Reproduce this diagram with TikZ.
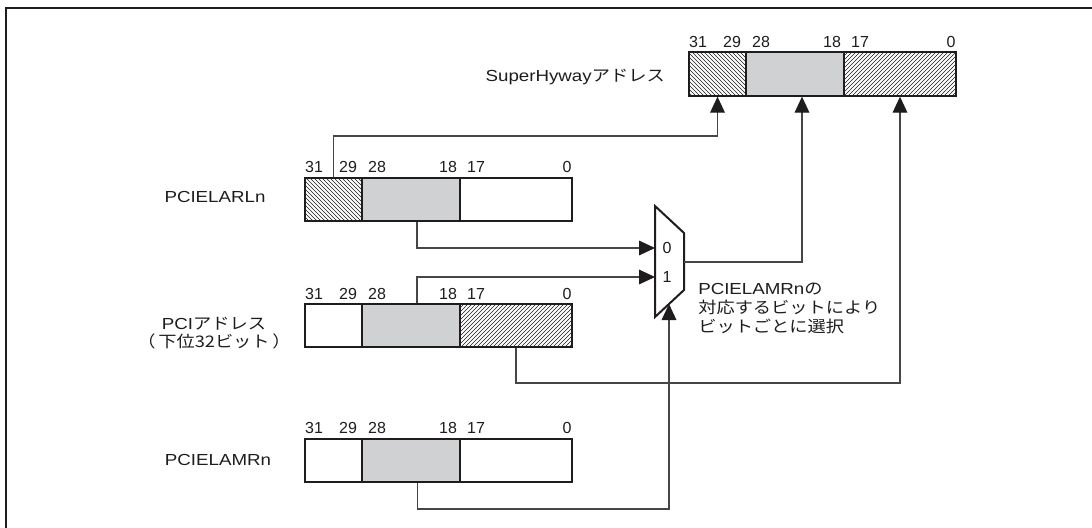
\documentclass[tikz,border=0pt]{standalone}
\usepackage{fontspec}
\setmainfont{Liberation Sans}
\newfontfamily\lab[FakeStretch=1.17]{Liberation Sans}
\newfontfamily\jp[FakeStretch=1.14]{Noto Sans CJK JP}
\usetikzlibrary{patterns,arrows.meta,calc}
\definecolor{shade}{RGB}{208,209,211}
\definecolor{ink}{RGB}{30,28,28}
\definecolor{wire}{RGB}{70,70,70}
\tikzset{
  field/.style={draw=ink, line width=1.5pt, inner sep=0pt, minimum height=32.5pt},
  f3bit/.style={field, minimum width=42.75pt},
  f11bit/.style={field, minimum width=73.5pt},
  f18bit/.style={field, minimum width=84pt},
  gray field/.style={fill=shade},
  hatch nw/.style={pattern=north west lines, pattern color=ink},
  hatch ne/.style={pattern=north east lines, pattern color=ink},
  conn/.style={draw=wire, line width=0.9pt},
  arr/.style={-{Triangle[length=12pt,width=11pt,color=ink]}},
  bitlbl/.style={inner sep=0pt, text=ink},
  reglbl/.style={inner sep=0pt, text=ink, align=center},
}
\newcommand\bitlabels[3]{%
  \foreach \t/\dx in {31/9,29/43,28/72,18/143,17/171,0/262}
    \node[bitlbl] (#1-\t) at (#2+\dx,#3) {\t};}
\begin{document}
\begin{tikzpicture}[x=0.75pt,y=-0.75pt,font=\fontsize{12}{14}\selectfont]
\useasboundingbox (0,0) rectangle (1092,528);
% frame (top and left edges only)
\draw[ink,line width=1.5pt] (6.3,528) -- (6.3,8) -- (1092,8);

% SuperHyway address
\node[f3bit,hatch nw]   (sh1) at (717.5,74) {};
\node[f11bit,gray field] (sh2) at (795,74) {};
\node[f18bit,hatch ne]  (sh3) at (900,74) {};
\bitlabels{sh}{689}{42}
\node[reglbl,anchor=east] (shlbl) at (665,77) {{\lab SuperHyway}{\jp アドレス}};

% PCIELARLn
\node[f3bit,hatch nw]   (la1) at (333.5,199.5) {};
\node[f11bit,gray field] (la2) at (411,199.5) {};
\node[f18bit]           (la3) at (516,199.5) {};
\bitlabels{la}{305}{167}
\node[reglbl] (lalbl) at (215,197) {\lab PCIELARLn};

% PCI address
\node[f3bit]            (pa1) at (333.5,325.5) {};
\node[f11bit,gray field] (pa2) at (411,325.5) {};
\node[f18bit,hatch ne]  (pa3) at (516,325.5) {};
\bitlabels{pa}{305}{294}
\node[reglbl] (palbl) at (214,333) {\baselineskip=15.75pt{\lab PCI}{\jp アドレス}\\{\jp （\,下位32ビット\,）}};

% PCIELAMRn
\node[f3bit]            (am1) at (333.5,460.5) {};
\node[f11bit,gray field] (am2) at (411,460.5) {};
\node[f18bit]           (am3) at (516,460.5) {};
\bitlabels{am}{305}{428}
\node[reglbl] (amlbl) at (218,460) {\lab PCIELAMRn};

% multiplexer
\coordinate (mA) at (655,206);
\coordinate (mB) at (684,233);
\coordinate (mC) at (684,290);
\coordinate (mD) at (655,317);
\draw[ink,line width=1.5pt,line join=miter] (mA) -- (mB) -- (mC) -- (mD) -- cycle;
\coordinate (m0) at (655,248);
\coordinate (m1) at (655,277);
\coordinate (mout) at (684,262);
\coordinate (msel) at (669,304);
\node[bitlbl] (mux0) at (667,248) {0};
\node[bitlbl] (mux1) at (667,277) {1};

\node[reglbl,anchor=north west,align=left] (note) at (698,283)
  {\baselineskip=16.5pt{\lab PCIELAMRn}{\jp の}\\{\jp 対応するビットにより}\\{\jp ビットごとに選択}};

% junction points
\coordinate (j1) at (333.5,136);
\coordinate (j2) at (516,383);
\coordinate (j3) at (669,509);

% connectors
\draw[conn,arr] (la1.north) -- (j1) -| (sh1.south);
\draw[conn,arr] ([xshift=4.5pt]la2.south) |- (m0);
\draw[conn,arr] ([xshift=4.5pt]pa2.north) |- (m1);
\draw[conn,arr] (mout) -| ([xshift=5.25pt]sh2.south);
\draw[conn,arr] (pa3.south) -- (j2) -| (sh3.south);
\draw[conn,arr] ([xshift=5pt]am2.south) |- (j3) -- (msel);
\end{tikzpicture}
\end{document}
